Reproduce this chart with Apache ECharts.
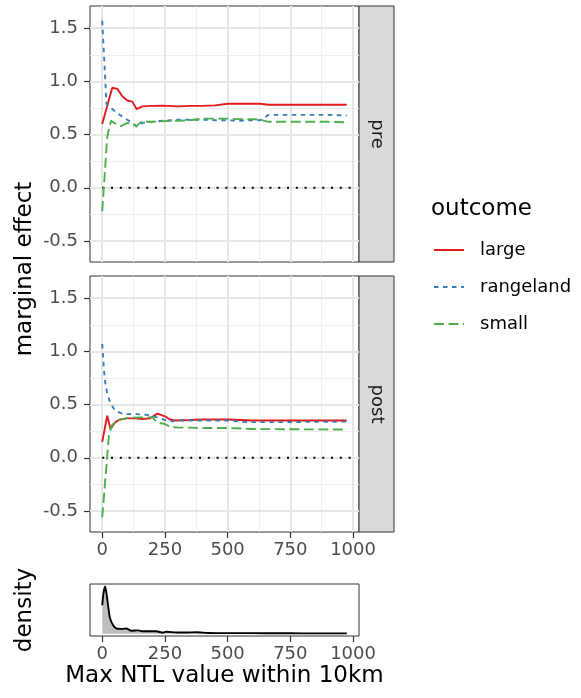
<!DOCTYPE html>
<html><head><meta charset="utf-8">
<script src="https://cdn.jsdelivr.net/npm/echarts@6/dist/echarts.min.js"></script>
<style>html,body{margin:0;padding:0;background:#fff}#c{width:581px;height:698px}</style>
</head><body><div id="c"></div>
<script>
// ---- data ----
const xTicks = [0, 250, 500, 750, 1000];
const xMinor = [125, 375, 625, 875];
const yTicks = [-0.5, 0, 0.5, 1.0, 1.5];
const yMinor = [-0.25, 0.25, 0.75, 1.25];
const outcomes = ['large', 'rangeland', 'small'];
const facets = ['pre', 'post'];

const preLargeX = [0, 20, 40, 60, 80, 100, 120, 137, 160, 200, 240, 280, 300, 350, 400, 450, 500, 550, 600, 630, 663, 700, 800, 900, 975];
const preLargeY = [0.60, 0.77, 0.94, 0.93, 0.86, 0.82, 0.81, 0.74, 0.765, 0.77, 0.772, 0.768, 0.765, 0.77, 0.77, 0.775, 0.79, 0.79, 0.79, 0.79, 0.78, 0.78, 0.78, 0.78, 0.78];
const preRangeX = [0, 17, 40, 60, 80, 100, 120, 137, 160, 200, 240, 280, 300, 350, 400, 450, 500, 550, 600, 630, 663, 700, 800, 900, 975];
const preRangeY = [1.57, 0.79, 0.74, 0.70, 0.67, 0.64, 0.61, 0.575, 0.61, 0.62, 0.63, 0.635, 0.64, 0.64, 0.64, 0.635, 0.635, 0.63, 0.635, 0.635, 0.685, 0.685, 0.685, 0.685, 0.68];
const preSmallX = [0, 20, 35, 55, 75, 100, 120, 137, 155, 200, 240, 280, 300, 350, 400, 450, 500, 550, 600, 630, 663, 700, 800, 900, 975];
const preSmallY = [-0.22, 0.48, 0.63, 0.60, 0.58, 0.61, 0.60, 0.58, 0.62, 0.62, 0.625, 0.63, 0.63, 0.635, 0.65, 0.65, 0.65, 0.645, 0.645, 0.64, 0.62, 0.62, 0.62, 0.62, 0.615];

const postLargeX = [0, 20, 33, 50, 70, 100, 130, 160, 190, 220, 250, 270, 290, 350, 400, 500, 550, 600, 700, 800, 975];
const postLargeY = [0.15, 0.395, 0.27, 0.33, 0.36, 0.37, 0.37, 0.365, 0.37, 0.415, 0.39, 0.36, 0.35, 0.355, 0.36, 0.36, 0.355, 0.35, 0.35, 0.35, 0.35];
const postRangeX = [0, 7, 13, 20, 33, 53, 86, 140, 190, 231, 271, 300, 400, 500, 580, 700, 975];
const postRangeY = [1.07, 0.82, 0.69, 0.60, 0.51, 0.44, 0.41, 0.41, 0.40, 0.37, 0.34, 0.35, 0.35, 0.35, 0.335, 0.335, 0.34];
const postSmallX = [0, 27, 40, 60, 100, 150, 200, 220, 246, 273, 300, 400, 500, 600, 975];
const postSmallY = [-0.56, 0.22, 0.31, 0.35, 0.375, 0.38, 0.38, 0.33, 0.32, 0.29, 0.285, 0.28, 0.28, 0.27, 0.265];

const zeroLineX = [0, 1000];
const zeroLineY = [0, 0];

const densityX = [0, 5, 12, 19, 30, 43, 56, 70, 82, 96, 116, 143, 163, 190, 216, 242, 256, 296, 340, 376, 420, 500, 600, 700, 800, 900, 975];
const densityY = [0.60, 0.86, 1.0, 0.77, 0.35, 0.18, 0.11, 0.10, 0.10, 0.11, 0.06, 0.07, 0.05, 0.05, 0.05, 0.02, 0.04, 0.025, 0.025, 0.03, 0.015, 0.01, 0.01, 0.008, 0.006, 0.005, 0.005];

// ---- styling ----
const FONT = 'DejaVu Sans';
const colors = { large: '#E41A1C', rangeland: '#377EB8', small: '#4DAF4A' };
const dashes = { large: 'solid', rangeland: [4.5, 4.5], small: [10, 4.5] };
const seriesData = {
  pre: { large: [preLargeX, preLargeY], rangeland: [preRangeX, preRangeY], small: [preSmallX, preSmallY] },
  post: { large: [postLargeX, postLargeY], rangeland: [postRangeX, postRangeY], small: [postSmallX, postSmallY] }
};
const zip = (xs, ys) => xs.map((x, i) => [x, ys[i]]);

const XMIN = -48.75, XMAX = 1023.75;
const YMIN = -0.698, YMAX = 1.709;

const grids = [
  { left: 90, top: 6, width: 269, height: 256 },
  { left: 90, top: 276, width: 269, height: 256 },
  { left: 90, top: 584, width: 269, height: 52 }
].map(g => Object.assign(g, { show: true, borderColor: '#333333', borderWidth: 1, backgroundColor: '#fff', containLabel: false }));

const tickLabelStyle = { color: '#4D4D4D', fontSize: 18, fontFamily: FONT };
const majorLine = { show: true, lineStyle: { color: '#E6E6E6', width: 2 } };
const minorLine = { show: true, lineStyle: { color: '#EEEEEE', width: 1 } };
const noLine = { show: false, onZero: false };

const xAxis = [], yAxis = [];
for (let g = 0; g < 2; g++) {
  xAxis.push({
    type: 'value', gridIndex: g, min: XMIN, max: XMAX, position: 'bottom', z: 1,
    axisLine: noLine,
    axisTick: { show: g === 1, length: 6, lineStyle: { color: '#333333', width: 1.2 }, customValues: xTicks },
    axisLabel: Object.assign({ show: g === 1, margin: 9, customValues: xTicks, formatter: v => String(v) }, tickLabelStyle),
    splitLine: majorLine
  });
  xAxis.push({
    type: 'value', gridIndex: g, min: XMIN, max: XMAX, position: 'top', z: 0,
    axisLine: noLine, axisLabel: { show: false },
    axisTick: { show: false, customValues: xMinor },
    splitLine: minorLine
  });
  yAxis.push({
    type: 'value', gridIndex: g, min: YMIN, max: YMAX, position: 'left', z: 1,
    axisLine: noLine,
    axisTick: { show: true, length: 6, lineStyle: { color: '#333333', width: 1.2 }, customValues: yTicks },
    axisLabel: Object.assign({ show: true, margin: 12, customValues: yTicks, formatter: v => v.toFixed(1) }, tickLabelStyle),
    splitLine: majorLine
  });
  yAxis.push({
    type: 'value', gridIndex: g, min: YMIN, max: YMAX, position: 'right', z: 0,
    axisLine: noLine, axisLabel: { show: false },
    axisTick: { show: false, customValues: yMinor },
    splitLine: minorLine
  });
}
xAxis.push({
  type: 'value', gridIndex: 2, min: XMIN, max: XMAX, position: 'bottom',
  axisLine: noLine,
  axisTick: { show: true, length: 6, lineStyle: { color: '#333333', width: 1.2 }, customValues: xTicks },
  axisLabel: Object.assign({ show: true, margin: 9, customValues: xTicks, formatter: v => String(v) }, tickLabelStyle),
  splitLine: { show: false }
});
yAxis.push({
  type: 'value', gridIndex: 2, min: -0.05, max: 1.05,
  axisLine: noLine, axisTick: { show: false }, axisLabel: { show: false }, splitLine: { show: false }
});

const series = [];
facets.forEach((f, g) => {
  series.push({
    type: 'line', xAxisIndex: g * 2, yAxisIndex: g * 2, data: zip(zeroLineX, zeroLineY),
    symbol: 'none', silent: true, z: 2,
    lineStyle: { color: '#000', width: 2, type: [2, 6.8] }
  });
  outcomes.forEach(o => {
    const [xs, ys] = seriesData[f][o];
    series.push({
      name: o, type: 'line', xAxisIndex: g * 2, yAxisIndex: g * 2,
      data: zip(xs, ys), symbol: 'none', showSymbol: false, z: 3,
      color: colors[o],
      lineStyle: { color: colors[o], width: 1.9, type: dashes[o] }
    });
  });
});
series.push({
  type: 'line', xAxisIndex: 4, yAxisIndex: 4, data: zip(densityX, densityY),
  symbol: 'none', smooth: 0.2, silent: true,
  lineStyle: { color: '#000', width: 1.9 },
  areaStyle: { color: '#BEBEBE', opacity: 1 }
});

const graphic = [];
facets.forEach((f, g) => {
  const gr = grids[g];
  graphic.push({
    type: 'rect', shape: { x: 359, y: gr.top, width: 35, height: gr.height },
    style: { fill: '#D9D9D9', stroke: '#333333', lineWidth: 1 }
  });
  graphic.push({
    type: 'text', x: 377, y: gr.top + gr.height / 2, rotation: -Math.PI / 2,
    style: { text: f, fill: '#1A1A1A', font: '18px "DejaVu Sans"', align: 'center', verticalAlign: 'middle', textAlign: 'center', textVerticalAlign: 'middle' }
  });
});
const titleFont = '23px "DejaVu Sans"';
graphic.push({
  type: 'text', x: 25, y: 269, rotation: Math.PI / 2,
  style: { text: 'marginal effect', fill: '#000', font: titleFont, align: 'center', verticalAlign: 'middle', textAlign: 'center', textVerticalAlign: 'middle' }
});
graphic.push({
  type: 'text', x: 25, y: 610, rotation: Math.PI / 2,
  style: { text: 'density', fill: '#000', font: titleFont, align: 'center', verticalAlign: 'middle', textAlign: 'center', textVerticalAlign: 'middle' }
});
graphic.push({
  type: 'text', x: 224.5, y: 676,
  style: { text: 'Max NTL value within 10km', fill: '#000', font: titleFont, align: 'center', verticalAlign: 'middle', textAlign: 'center', textVerticalAlign: 'middle' }
});
graphic.push({
  type: 'text', x: 431, y: 209,
  style: { text: 'outcome', fill: '#000', font: titleFont, align: 'left', verticalAlign: 'middle', textAlign: 'left', textVerticalAlign: 'middle' }
});

const option = {
  animation: false,
  backgroundColor: '#fff',
  grid: grids,
  xAxis, yAxis, series, graphic,
  legend: {
    data: outcomes, orient: 'vertical', left: 428, top: 236, padding: 5,
    itemWidth: 30, itemHeight: 18, itemGap: 19,
    itemStyle: { opacity: 0 },
    textStyle: { fontSize: 18, fontFamily: FONT, color: '#000', padding: [0, 0, 0, 11] }
  }
};
const chart = echarts.init(document.getElementById('c'), null, { renderer: 'canvas' });
chart.setOption(option);
</script></body></html>
